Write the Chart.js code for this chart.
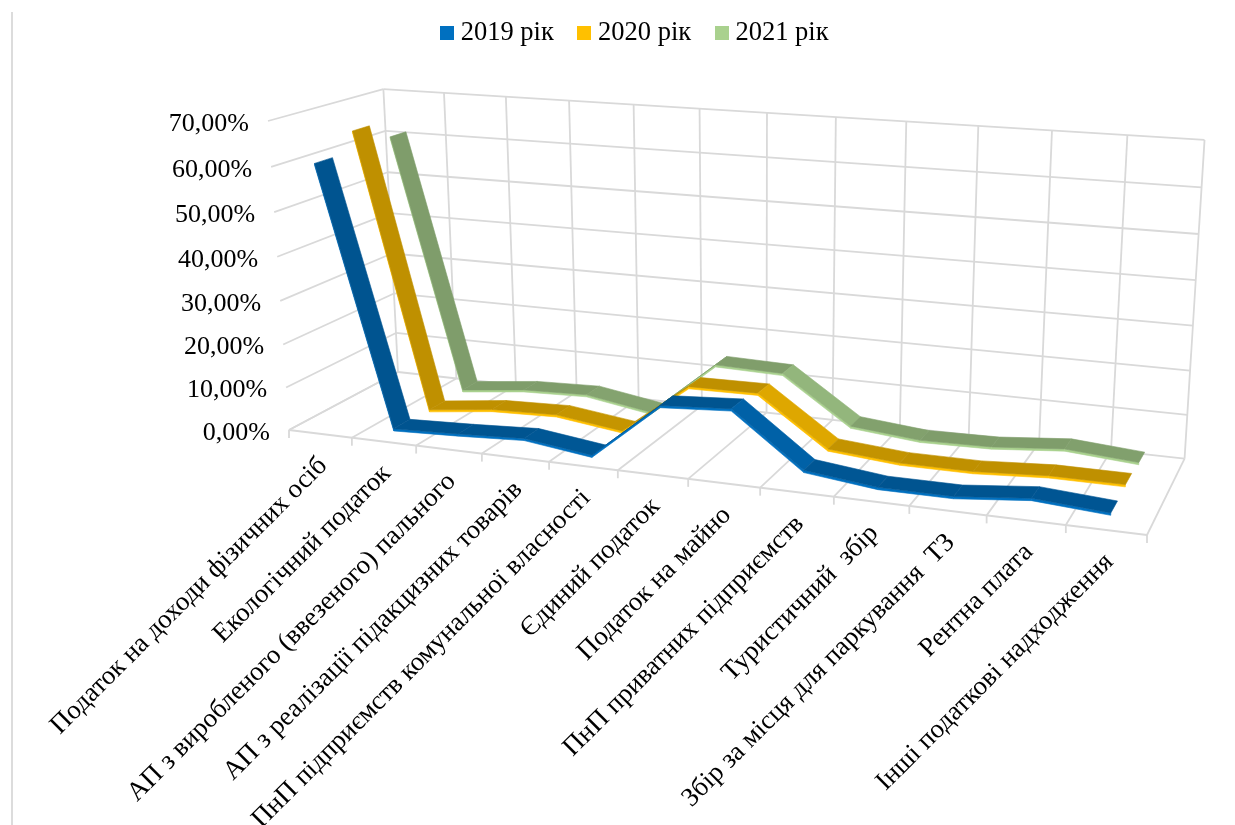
<!DOCTYPE html>
<html lang="uk">
<head>
<meta charset="utf-8">
<title>Податкові надходження</title>
<script src="https://cdn.jsdelivr.net/npm/chart.js@4/dist/chart.umd.min.js"></script>
<style>
  html, body { margin: 0; padding: 0; background: #fff; }
  canvas { display: block; }
</style>
</head>
<body>
<canvas id="taxChart" width="1235" height="825"></canvas>
<script>
const categories = [
    'Податок на доходи фізичних осіб',
    'Екологічний податок',
    'АП з виробленого (ввезеного) пального',
    'АП з реалізації підакцизних товарів',
    'ПнП підприємств комунальної власності',
    'Єдиний податок',
    'Податок на майно',
    'ПнП приватних підприємств',
    'Туристичний  збір',
    'Збір за місця для паркування  ТЗ',
    'Рентна плата',
    'Інші податкові надходження'
];
const years = ['2019 рік', '2020 рік', '2021 рік'];
const values2019 = [60.5, 1.6, 2.2, 3.0, 1.0, 14.0, 15.0, 3.3, 1.5, 1.5, 3.1, 2.0];
const values2020 = [65.0, 1.2, 3.0, 3.5, 1.5, 13.5, 13.7, 2.8, 1.5, 1.5, 2.5, 2.5];
const values2021 = [61.0, 1.3, 3.0, 3.5, 1.0, 14.0, 13.6, 3.0, 1.5, 1.8, 3.2, 2.0];

const legendColors = ['#0070C0', '#FFC000', '#A9D18E'];
const gridColor = '#D9D9D9';
const labelFont = '26.8px "Liberation Serif"';
const tickFont = '26px "Liberation Serif"';

// Box corners on screen: origin, end of the category edge, top of the value edge, back of the floor,
// each with its homogeneous weight for the perspective
const corner = { x: 289, y: 430 };
const edges = [
    { x: 1147, y: 535, w: 0.87 },
    { x: 268, y: 121, w: 0.957 },
    { x: 398, y: 372, w: 1.097 }
];

// u along categories, v up the value axis, d towards the back wall, all 0..1
function project(u, v, d) {
    const t = [u, v, d];
    let x = corner.x, y = corner.y, den = 1;
    edges.forEach((e, i) => {
        x += t[i] * (e.w * e.x - corner.x);
        y += t[i] * (e.w * e.y - corner.y);
        den += t[i] * (e.w - 1);
    });
    return { x: x / den, y: y / den };
}

function line(ctx, a, b) {
    ctx.beginPath();
    ctx.moveTo(a.x, a.y);
    ctx.lineTo(b.x, b.y);
    ctx.stroke();
}

function quad(ctx, pts, color) {
    ctx.fillStyle = color;
    ctx.strokeStyle = color;
    ctx.lineWidth = 0.6;
    ctx.beginPath();
    pts.forEach((p, i) => i ? ctx.lineTo(p.x, p.y) : ctx.moveTo(p.x, p.y));
    ctx.closePath();
    ctx.fill();
    ctx.stroke();
}

function shade(hex, k) {
    const n = parseInt(hex.slice(1), 16);
    const c = [n >> 16, (n >> 8) & 255, n & 255].map(p => Math.round(p * k));
    return `rgb(${c[0]}, ${c[1]}, ${c[2]})`;
}

// legend marker: an image keeps the square tight against the label text
function swatch(color) {
    const c = document.createElement('canvas');
    c.width = 14;
    c.height = 14;
    const g = c.getContext('2d');
    g.fillStyle = color;
    g.fillRect(0, 0, 14, 14);
    return c;
}

const box3d = {
    id: 'box3d',
    // walls, floor and axis text go under the ribbons
    beforeDatasetsDraw(chart) {
        const ctx = chart.ctx;
        const xs = chart.scales.x, ys = chart.scales.y;
        const n = categories.length;
        ctx.save();
        ctx.strokeStyle = gridColor;
        ctx.lineWidth = 1.8;
        line(ctx, { x: 12, y: 12 }, { x: 12, y: 825 });

        for (let i = 0; i <= n; i++) {
            const u = i / n;
            line(ctx, project(u, 0, 1), project(u, 1, 1));
            const front = project(u, 0, 0);
            line(ctx, front, project(u, 0, 1));
            line(ctx, front, { x: front.x, y: front.y + 8 });
        }
        line(ctx, project(0, 0, 0), project(1, 0, 0));

        ctx.font = tickFont;
        ctx.fillStyle = '#000';
        ctx.textAlign = 'right';
        ctx.textBaseline = 'middle';
        ys.ticks.forEach(tick => {
            const v = (ys.bottom - ys.getPixelForValue(tick.value)) / ys.height;
            const p = project(0, v, 0);
            ctx.strokeStyle = gridColor;
            line(ctx, p, project(0, v, 1));
            line(ctx, project(0, v, 1), project(1, v, 1));
            ctx.fillText(tick.label, p.x - 19, p.y + 3);
        });

        ctx.font = labelFont;
        categories.forEach((name, i) => {
            const u = (xs.getPixelForValue(i) - xs.left) / xs.width;
            const p = project(u, 0, 0);
            ctx.save();
            ctx.translate(p.x + 3, p.y + 28);
            ctx.rotate(-Math.PI / 4);
            ctx.fillText(name, 0, 0);
            ctx.restore();
        });
        ctx.restore();
    },
    // one flat strip per series, drawn back to front
    afterDatasetsDraw(chart) {
        const ctx = chart.ctx;
        const xs = chart.scales.x, ys = chart.scales.y;
        const nSeries = chart.data.datasets.length;
        const halfDepth = 0.075, thickness = 0.5;
        ctx.save();
        for (let s = nSeries - 1; s >= 0; s--) {
            const data = chart.data.datasets[s].data;
            const base = legendColors[s];
            const mid = (s + 0.5) / nSeries;
            const at = (i, value, d) => project(
                (xs.getPixelForValue(i) - xs.left) / xs.width,
                (ys.bottom - ys.getPixelForValue(value)) / ys.height,
                d
            );
            for (let i = 0; i < data.length - 1; i++) {
                const a = data[i], b = data[i + 1];
                const f0 = mid - halfDepth, b0 = mid + halfDepth;
                quad(ctx, [at(i, a, f0), at(i + 1, b, f0), at(i + 1, b - thickness, f0), at(i, a - thickness, f0)], base);
                // falling strips catch more light, the steep first one does not
                const drop = a - b;
                const k = drop > 30 || drop < 0 ? 0.75 : 0.75 + Math.min(drop, 10) * 0.012;
                quad(ctx, [at(i, a, f0), at(i + 1, b, f0), at(i + 1, b, b0), at(i, a, b0)], shade(base, k));
            }
        }
        ctx.restore();
    }
};

new Chart(document.getElementById('taxChart').getContext('2d'), {
    type: 'line',
    data: {
        labels: categories,
        datasets: [values2019, values2020, values2021].map((values, i) => ({
            label: years[i],
            data: values,
            backgroundColor: legendColors[i],
            borderColor: legendColors[i],
            borderWidth: 0,
            showLine: false,
            pointRadius: 0,
            pointStyle: swatch(legendColors[i])
        }))
    },
    options: {
        responsive: false,
        animation: false,
        layout: { padding: { left: 40, top: -10 } },
        plugins: {
            tooltip: { enabled: false },
            legend: {
                position: 'top',
                labels: {
                    usePointStyle: true,
                    pointStyleWidth: 1,
                    boxHeight: 14,
                    padding: 30,
                    color: '#000',
                    font: { family: 'Liberation Serif', size: 26.5 }
                }
            }
        },
        scales: {
            x: { type: 'category', offset: true, display: false },
            y: {
                display: false,
                min: 0,
                max: 70,
                ticks: {
                    stepSize: 10,
                    callback: value => value.toFixed(2).replace('.', ',') + '%'
                }
            }
        }
    },
    plugins: [box3d]
});
</script>
</body>
</html>
